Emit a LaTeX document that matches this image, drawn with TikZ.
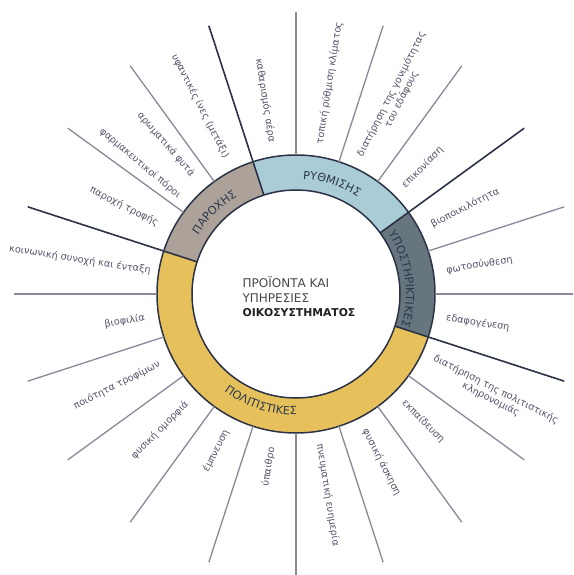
\documentclass[tikz,border=0pt]{standalone}
\usepackage{fontspec}
\setmainfont{DejaVu Sans}
\usepackage{xcolor}
\usetikzlibrary{decorations.text}

\definecolor{regcol}{HTML}{A9CCD7}
\definecolor{provcol}{HTML}{ADA29A}
\definecolor{suppcol}{HTML}{67757F}
\definecolor{cultcol}{HTML}{E6C15B}
\definecolor{navyline}{HTML}{2B3246}
\definecolor{spokegray}{HTML}{8C8699}
\definecolor{labelgray}{HTML}{57536C}
\definecolor{segtext}{HTML}{2C384C}

\tikzset{
  spoke/.style={draw=spokegray, line width=1.3},
  bound/.style={draw=navyline, line width=1.6},
  lbl/.style={text=labelgray, font=\fontsize{9.7}{11.3}\selectfont, inner sep=1pt, align=center},
  lblR/.style={lbl, anchor=west, rotate=#1},
  lblL/.style={lbl, anchor=east, rotate=#1-180},
  segname/.style={decorate, decoration={text along path, text align=center,
    text={|\fontsize{11.3}{13}\selectfont\color{segtext}|#1}}}
}

\begin{document}
\begin{tikzpicture}[x=1pt,y=1pt]
\useasboundingbox (-296,-281) rectangle (277,294);
\clip (-296,-281) rectangle (277,294);

% ring segments
\fill[regcol] (36:104) arc[start angle=36,end angle=108,radius=104]
  -- (108:139) arc[start angle=108,end angle=36,radius=139] -- cycle;
\fill[provcol] (108:104) arc[start angle=108,end angle=162,radius=104]
  -- (162:139) arc[start angle=162,end angle=108,radius=139] -- cycle;
\fill[cultcol] (162:104) arc[start angle=162,end angle=342,radius=104]
  -- (342:139) arc[start angle=342,end angle=162,radius=139] -- cycle;
\fill[suppcol] (-18:104) arc[start angle=-18,end angle=36,radius=104]
  -- (36:139) arc[start angle=36,end angle=-18,radius=139] -- cycle;
\draw[navyline, line width=1.5] (0,0) circle[radius=139];
\draw[navyline, line width=1.5] (0,0) circle[radius=104];

% spokes
\foreach \a in {0,18,54,72,90,126,144,180,198,216,234,252,270,288,306,324}
  \draw[spoke] (\a:139) -- (\a:282);
\foreach \a in {36,108,162,342}
  \draw[bound] (\a:104) -- (\a:282);

% segment names
\path[segname=ΡΥΘΜΙΣΗΣ] (102:115) arc[start angle=102,end angle=42,radius=115];
\path[segname=ΠΑΡΟΧΗΣ] (160:114) arc[start angle=160,end angle=110,radius=114];
\path[segname=ΥΠΟΣΤΗΡΙΚΤΙΚΕΣ] (40:110) arc[start angle=40,end angle=-24,radius=110];
\path[segname=ΠΟΛΙΤΙΣΤΙΚΕΣ] (222:121) arc[start angle=222,end angle=282,radius=121];

% centre
\node[align=left, font=\fontsize{12}{14.5}\selectfont, text=black!72] (centre) at (3,-3)
  {ΠΡΟΪΟΝΤΑ ΚΑΙ\\ΥΠΗΡΕΣΙΕΣ\\{\fontsize{10.8}{14.5}\selectfont\textcolor{black!88}{\textbf{ΟΙΚΟΣΥΣΤΗΜΑΤΟΣ}}}};

% services, right side
\foreach \a/\t in {81/τοπική ρύθμιση κλίματος,
    63/{διατήρηση της γονιμότητας\\του εδάφους},
    45/επικονίαση, 27/βιοποικιλότητα, 9/φωτοσύνθεση, -9/εδαφογένεση,
    -27/{διατήρηση της πολιτιστικής\\κληρονομιάς},
    -45/εκπαίδευση, -63/φυσική άσκηση, -81/πνευματική ευημερία}
  \node[lblR=\a] (s\a) at (\a:151) {\t};

% services, left side
\foreach \a/\r/\t in {99/152/καθαρισμός αέρα, 117/152/υφαντικές ίνες (μετάξι),
    131/156/αρωματικά φυτά, 140/151/φαρμακευτικοί πόροι, 153/154/παροχή τροφής,
    171/146/κοινωνική συνοχή και ένταξη, 189/152/βιοφιλία, 207/152/ποιότητα τροφίμων,
    225/153/φυσική ομορφιά, 243/152/έμπνευση, 261/154/ύπαιθρο}
  \node[lblL=\a] (s\a) at (\a:\r) {\t};
\end{tikzpicture}
\end{document}
